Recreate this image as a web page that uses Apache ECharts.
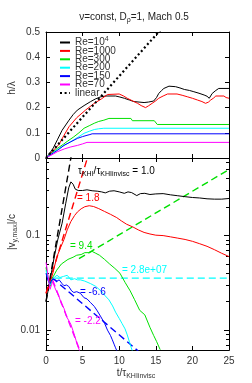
<!DOCTYPE html>
<html><head><meta charset="utf-8">
<script src="https://cdn.jsdelivr.net/npm/echarts@6/dist/echarts.min.js"></script>
<style>html,body{margin:0;padding:0;background:#fff}#c{width:252px;height:383px}</style>
</head><body><div id="c"></div>
<script>
// ---- data: top panel h/lambda vs t ----
const topNames = ['Re=10^4','Re=1000','Re=300','Re=200','Re=150','Re=70','linear'];
const colors = ['#000000','#ff0000','#00e000','#00ffff','#0000ff','#ff00ff','#000000'];
const hRe1e4 = [[0,0],[0.5,0.018],[1.0,0.04],[1.55,0.072],[2.2,0.11],[3.14,0.15],[3.7,0.172],[4.28,0.19],[5.2,0.208],[6.1,0.224],[6.8,0.235],[7.5,0.243],[8.2,0.246],[9.5,0.246],[10.1,0.242],[10.7,0.237],[11.4,0.23],[12,0.224],[13.4,0.22],[14.0,0.222],[14.7,0.226],[15.1,0.24],[15.4,0.256],[15.8,0.268],[16.1,0.276],[16.8,0.285],[17.7,0.283],[18.3,0.278],[18.9,0.272],[19.6,0.268],[20.2,0.263],[20.9,0.257],[21.6,0.25],[22.0,0.245],[22.3,0.237],[22.7,0.256],[23.2,0.268],[23.6,0.276],[25,0.276]];
const hRe1000 = [[0,0],[0.5,0.014],[1.0,0.03],[1.8,0.055],[2.46,0.09],[3.14,0.124],[4.2,0.16],[5.4,0.19],[6.5,0.215],[7.6,0.235],[8.4,0.252],[10.0,0.254],[10.6,0.246],[11.1,0.237],[11.8,0.227],[12.5,0.217],[13.0,0.208],[13.6,0.2],[14.0,0.207],[14.5,0.217],[15.0,0.227],[15.4,0.237],[16.0,0.246],[16.6,0.254],[17.9,0.254],[18.6,0.249],[19.3,0.243],[20.0,0.237],[20.7,0.23],[21.3,0.224],[21.8,0.217],[22.2,0.222],[22.5,0.23],[22.9,0.238],[23.2,0.246],[24.3,0.246],[24.6,0.24],[25,0.237]];
const hRe300 = [[0,0],[0.5,0.012],[1.0,0.025],[1.55,0.038],[2.4,0.055],[3.0,0.068],[3.8,0.084],[4.5,0.1],[5.2,0.118],[5.9,0.128],[6.6,0.138],[7.2,0.145],[7.9,0.15],[8.6,0.157],[11.6,0.157],[11.8,0.148],[14.8,0.148],[15.2,0.133],[25,0.133]];
const hRe200 = [[0,0],[0.5,0.012],[1.0,0.022],[1.55,0.033],[2.46,0.05],[3.1,0.06],[3.8,0.072],[4.5,0.085],[5.2,0.098],[5.9,0.106],[6.6,0.113],[7.2,0.116],[7.9,0.118],[25,0.118]];
const hRe150 = [[0,0],[0.5,0.01],[1.0,0.02],[1.55,0.03],[2.46,0.05],[3.3,0.063],[4.3,0.078],[5.0,0.085],[5.6,0.09],[6.0,0.093],[6.3,0.096],[25,0.096]];
const hRe70 = [[0,0],[0.5,0.008],[1.0,0.016],[1.55,0.025],[2.5,0.036],[3.4,0.044],[4.3,0.05],[5.0,0.056],[5.6,0.062],[25,0.062]];
const hLinear = [[0,0],[16,0.52]];
// ---- data: bottom panel |v_y,max|/c vs t ----
const vRe1e4 = [[0,0.020],[0.5,0.032],[1.1,0.058],[1.6,0.09],[2.2,0.135],[2.7,0.22],[3.1,0.32],[3.4,0.37],[3.7,0.35],[4.0,0.31],[4.4,0.30],[5.0,0.30],[5.6,0.305],[6.3,0.298],[7.0,0.295],[7.6,0.29],[8.1,0.283],[8.7,0.295],[9.3,0.298],[10.0,0.29],[10.7,0.28],[11.2,0.29],[11.7,0.285],[12.4,0.265],[12.9,0.278],[13.5,0.28],[14.2,0.272],[15.0,0.276],[16.0,0.278],[17.0,0.27],[18.0,0.264],[19.0,0.258],[20.0,0.253],[21.0,0.25],[22.0,0.245],[23.0,0.243],[24.0,0.243],[25,0.247]];
const vRe1000 = [[0,0.0245],[0.5,0.03],[1.0,0.042],[1.5,0.06],[2.0,0.075],[2.46,0.091],[2.9,0.115],[3.4,0.141],[3.9,0.163],[4.3,0.178],[4.8,0.192],[5.3,0.202],[5.9,0.207],[6.5,0.203],[7.2,0.193],[8.0,0.18],[8.8,0.168],[9.66,0.155],[10.3,0.143],[11.0,0.132],[11.9,0.123],[12.6,0.115],[13.4,0.108],[14.2,0.104],[15.0,0.101],[16.0,0.1],[17.0,0.097],[18.0,0.094],[19.0,0.091],[20.0,0.087],[21.0,0.082],[22.0,0.077],[23.0,0.071],[24.0,0.065],[25.0,0.06]];
const vRe300 = [[0,0.046],[0.25,0.036],[0.55,0.029],[1.0,0.037],[1.46,0.043],[2.1,0.05],[3.0,0.056],[3.7,0.059],[4.2,0.062],[4.8,0.063],[5.3,0.066],[5.8,0.066],[6.3,0.068],[6.8,0.065],[7.3,0.062],[8.0,0.056],[8.7,0.05],[9.4,0.045],[10.1,0.04],[10.8,0.032],[11.5,0.026],[12.1,0.021],[12.8,0.0162],[13.5,0.0145],[14.2,0.0107],[14.7,0.0088],[15.1,0.0076],[15.6,0.0062]];
const vRe200 = [[0,0.043],[0.3,0.034],[0.55,0.03],[0.8,0.034],[1.1,0.036],[1.5,0.038],[1.9,0.036],[2.4,0.037],[2.9,0.038],[3.1,0.039],[3.4,0.034],[3.9,0.035],[4.3,0.034],[4.7,0.034],[5.3,0.033],[6.1,0.031],[6.8,0.029],[7.5,0.026],[8.1,0.023],[8.6,0.0209],[9.1,0.018],[9.5,0.0155],[10.0,0.0133],[10.4,0.0117],[10.8,0.0103],[11.1,0.0089],[11.4,0.0075],[11.65,0.0065],[11.8,0.006]];
const vRe150 = [[0,0.040],[0.3,0.033],[0.55,0.031],[0.8,0.034],[1.1,0.0347],[1.5,0.033],[1.8,0.034],[2.2,0.031],[2.46,0.0295],[2.8,0.03],[3.1,0.029],[3.5,0.026],[3.8,0.025],[4.2,0.0255],[4.7,0.0245],[5.2,0.022],[5.6,0.0214],[6.1,0.0195],[6.6,0.0178],[7.0,0.016],[7.5,0.0138],[8.0,0.0118],[8.4,0.01],[8.8,0.0088],[9.06,0.0079],[9.3,0.0071],[9.5,0.0065],[9.7,0.006]];
const vRe70 = [[0,0.052],[0.2,0.042],[0.4,0.032],[0.55,0.027],[0.75,0.03],[0.95,0.033],[1.1,0.0295],[1.4,0.026],[1.8,0.0224],[2.1,0.019],[2.46,0.017],[2.7,0.0145],[2.9,0.0135],[3.1,0.013],[3.4,0.0115],[3.8,0.0093],[4.1,0.0078],[4.3,0.0069],[4.5,0.0063],[4.6,0.006]];
// exponential fits (straight in log space): endpoints
const fitRe1e4 = [[0,0.020],[3.45,0.70]];
const fitRe1000 = [[0,0.0245],[5.8,0.72]];
const fitRe300 = [[4.5,0.057],[25,0.5]];
const fitRe200 = [[1.2,0.0355],[25,0.0355]];
const fitRe150 = [[0.8,0.036],[12.6,0.006]];
const fitRe70 = [[0.9,0.034],[4.7,0.0059]];
const fitLabels = ['= 1.8','= 9.4','= 2.8e+07','= -6.6','= -2.2'];
const yTopTicks = [0,0.1,0.2,0.3,0.4,0.5];
const yTopTickLabels = ['0','0.1','0.2','0.3','0.4','0.5'];
const yLogLabels = [0.01,0.1];
const yLogMinor = [0.007,0.008,0.009,0.02,0.03,0.04,0.05,0.06,0.07,0.08,0.09,0.2,0.3,0.4,0.5,0.6];

const FONT = 'Liberation Sans';
const TXT = '#333';
const chart = echarts.init(document.getElementById('c'), null, {renderer:'canvas'});

function xAx(grid, pos, labels){
  return {type:'value', gridIndex:grid, position:pos, min:0, max:25, interval:5,
    axisLine:{show:true, onZero:false, lineStyle:{color:'#000', width:1}},
    axisTick:{show:true, inside:true, length:4, lineStyle:{color:'#000'}},
    axisLabel:{show:labels, margin:6, color:TXT, fontSize:10, fontFamily:FONT},
    splitLine:{show:false}};
}
function yTop(pos){
  return {type:'value', gridIndex:0, position:pos, min:0, max:0.5, interval:0.1,
    axisLine:{show:true, onZero:false, lineStyle:{color:'#000'}},
    axisTick:{show:true, inside:true, length:4, lineStyle:{color:'#000'}},
    axisLabel:{show:false},
    splitLine:{show:false}};
}
function yLog(pos, labels, tickVals, len){
  return {type:'log', logBase:10, gridIndex:1, position:pos, min:0.00616, max:0.662,
    axisLine:{show:true, onZero:false, lineStyle:{color:'#000'}},
    axisTick:{show:true, inside:true, length:len, customValues:tickVals, lineStyle:{color:'#000'}},
    axisLabel:{show:labels, margin:6, color:TXT, fontSize:10, fontFamily:FONT, customValues:yLogLabels,
      formatter:v=>String(v)},
    splitLine:{show:false}, minorTick:{show:false}};
}

const topData = [hRe1e4,hRe1000,hRe300,hRe200,hRe150,hRe70];
const botData = [vRe1e4,vRe1000,vRe300,vRe200,vRe150,vRe70];
const fits = [fitRe1e4,fitRe1000,fitRe300,fitRe200,fitRe150,fitRe70];
const series = [];
topData.forEach((d,i)=>series.push({name:topNames[i], type:'line', xAxisIndex:0, yAxisIndex:0, data:d,
  symbol:'none', lineStyle:{color:colors[i], width:1}, itemStyle:{color:colors[i]}, animation:false, z:3}));
series.push({name:'linear', type:'line', xAxisIndex:0, yAxisIndex:0, data:hLinear, symbol:'none',
  lineStyle:{color:'#000', width:2.2, type:[2,2.6]}, itemStyle:{color:'#000'}, animation:false, z:4});
botData.forEach((d,i)=>series.push({name:'v'+i, type:'line', xAxisIndex:2, yAxisIndex:4, data:d,
  symbol:'none', lineStyle:{color:colors[i], width:1}, animation:false, z:3}));
fits.forEach((d,i)=>series.push({name:'f'+i, type:'line', xAxisIndex:2, yAxisIndex:4, data:d,
  symbol:'none', lineStyle:{color:colors[i], width:1.4, type:[7,4]}, animation:false, z:2}));

const R = (c)=>({n:{fill:c, fontSize:10, fontFamily:FONT}, s:{fill:c, fontSize:7, fontFamily:FONT, padding:[6,0,0,0]}});
const graphic = [
  {type:'text', x:134, y:17, silent:true, style:{text:'{n|ν=const, D}{s|ρ}{n|=1, Mach 0.5}', align:'center', verticalAlign:'middle', rich:R('#222')}},
  {type:'text', x:12, y:88, rotation:Math.PI/2, silent:true, style:{text:'h/λ', align:'center', verticalAlign:'middle', fill:TXT, fontSize:10, fontFamily:FONT}},
  {type:'text', x:12, y:232, rotation:Math.PI/2, silent:true, style:{text:'{n||v}{s|y,max}{n||/c}', align:'center', verticalAlign:'middle', rich:R(TXT)}},
  {type:'text', x:136, y:373, silent:true, style:{text:'{n|t/τ}{s|KHIinvisc}', align:'center', verticalAlign:'middle', rich:R(TXT)}},
  {type:'text', x:78, y:171, silent:true, z:10, style:{text:'{n|τ}{s|KHI}{n|/τ}{s|KHIinvisc}{n| = 1.0}', align:'left', verticalAlign:'middle', rich:R('#000')}},
  {type:'text', x:77, y:198, silent:true, z:10, style:{text:fitLabels[0], fill:colors[1], fontSize:10, fontFamily:FONT, verticalAlign:'middle'}},
  {type:'text', x:70, y:246, silent:true, z:10, style:{text:fitLabels[1], fill:colors[2], fontSize:10, fontFamily:FONT, verticalAlign:'middle'}},
  {type:'text', x:122, y:270, silent:true, z:10, style:{text:fitLabels[2], fill:colors[3], fontSize:10, fontFamily:FONT, verticalAlign:'middle'}},
  {type:'text', x:80, y:292, silent:true, z:10, style:{text:fitLabels[3], fill:colors[4], fontSize:10, fontFamily:FONT, verticalAlign:'middle'}},
  {type:'text', x:75, y:321, silent:true, z:10, style:{text:fitLabels[4], fill:colors[5], fontSize:10, fontFamily:FONT, verticalAlign:'middle'}}
];

chart.setOption({
  animation:false,
  backgroundColor:'#fff',
  grid:[{left:46, top:32, width:183, height:126, containLabel:false},
        {left:46, top:158, width:183, height:192, containLabel:false}],
  xAxis:[xAx(0,'bottom',false), xAx(0,'top',false), xAx(1,'bottom',true), xAx(1,'top',false)],
  yAxis:[yTop('left'), yTop('right'),
         yLog('left',true,yLogLabels,5), yLog('right',false,yLogLabels,5),
         yLog('left',false,yLogMinor,3), yLog('right',false,yLogMinor,3)],
  legend:{data:topNames, orient:'vertical', left:54, top:31, itemGap:-1.6, itemWidth:10, itemHeight:1,
    selectedMode:false, itemStyle:{opacity:0},
    textStyle:{color:TXT, fontSize:10, fontFamily:FONT,
      rich:{sup:{fontSize:7, fontFamily:FONT, color:TXT, padding:[0,0,6,0]}}},
    formatter:n=>n==='Re=10^4'?'Re=10{sup|4}':n},
  series:series
});
// top-panel tick labels placed through the y scale of the top grid
const yAxis0 = chart.getModel().getComponent('yAxis',0).axis;
const gridRect = chart.getModel().getComponent('grid',0).coordinateSystem.getRect();
yTopTicks.forEach((v,i)=>{
  let py = yAxis0.toGlobalCoord(yAxis0.dataToCoord(v));
  if(!isFinite(py)) py = gridRect.y + gridRect.height*(1 - v/0.5);
  graphic.push({type:'text', x:gridRect.x-6, y:py, silent:true, zlevel:2, z:100,
    style:{text:yTopTickLabels[i], align:'right', verticalAlign:'middle', fill:TXT, fontSize:10, fontFamily:FONT}});
});
chart.setOption({graphic:graphic});
</script></body></html>
